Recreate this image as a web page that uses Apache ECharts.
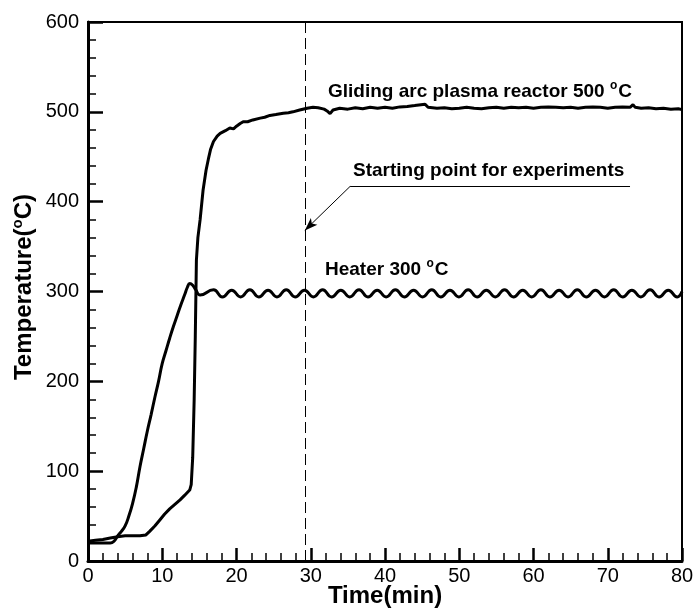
<!DOCTYPE html>
<html>
<head>
<meta charset="utf-8">
<script src="https://cdn.jsdelivr.net/npm/echarts@6/dist/echarts.min.js"></script>
<style>
  html, body { margin: 0; padding: 0; background: #fff; }
  #chart { width: 698px; height: 613px; }
</style>
</head>
<body>
<div id="chart"></div>
<script>
// Time axis (min) and temperature axis (°C) ticks
const xTicks = [0, 10, 20, 30, 40, 50, 60, 70, 80];
const yTicks = [0, 100, 200, 300, 400, 500, 600];

// Heater temperature, controlled at 300 °C
const heaterTime = [0, 1, 2, 3, 3.5, 4, 4.5, 5, 5.5, 6, 6.5, 7, 7.5, 8, 8.5, 9, 9.5, 10, 10.5, 11,
  11.5, 12, 12.5, 13, 13.4, 13.7, 14.1, 14.5, 15.1,
  16.9, 18.1, 19.35, 20.55, 21.8, 23.0, 24.25, 25.45, 26.7, 27.9, 29.15, 30.35, 31.6, 32.8,
  34.05, 35.25, 36.5, 37.7, 38.95, 40.15, 41.4, 42.6, 43.85, 45.05, 46.3, 47.5, 48.75, 49.95,
  51.2, 52.4, 53.65, 54.85, 56.1, 57.3, 58.55, 59.75, 61.0, 62.2, 63.45, 64.65, 65.9, 67.1,
  68.35, 69.55, 70.8, 72.0, 73.25, 74.45, 75.7, 76.9, 78.15, 79.35, 80];
const heaterTemp = [20, 20, 20, 20, 22, 28, 33, 39, 50, 64, 82, 105, 125, 145, 163, 182, 200, 220, 234, 248,
  261, 273, 285, 296, 305, 309, 307, 302, 296,
  302, 294, 301.5, 294, 302, 294, 301.5, 294, 302, 294, 301.5, 294, 302, 294,
  301.5, 294, 302, 294, 301.5, 294, 302, 294, 301.5, 294, 302, 294, 301.5, 294,
  302, 294, 301.5, 294, 302, 294, 301.5, 294, 302, 294, 301.5, 294, 302, 294,
  301.5, 294, 302, 294, 301.5, 294, 302, 294, 301.5, 294, 300];

// Gliding arc plasma reactor temperature, reaching 500 °C
const reactorTime = [0, 1, 2, 3, 4, 5, 6, 7, 7.8, 8.3, 9, 9.7, 10.3, 11, 11.7, 12.4, 13, 13.7, 13.9,
  14.1, 14.3, 14.45, 14.6, 14.8, 15.1, 15.5, 15.9, 16.2, 16.5, 16.9, 17.4, 17.8, 18.5, 19.1, 19.6,
  20.0, 20.5, 20.9, 21.5, 22.2, 23.2, 23.8, 24.5, 25.3, 26.3, 27.0, 27.6, 28.5, 29.5, 30.3, 31.0,
  31.8, 32.2, 32.6, 33.0, 33.9, 35, 36, 37, 38, 39, 40, 41, 42, 43, 44, 45.4, 45.8, 47, 48, 49,
  50, 51, 52, 53, 54, 55, 56, 57, 58, 59, 60, 61, 62, 63, 64, 65, 66, 67, 68, 69, 70, 71, 72, 73,
  73.4, 73.7, 74.5, 75.5, 76.5, 77.5, 78.5, 79.5, 80];
const reactorTemp = [22, 23, 24, 25.5, 27, 28, 28, 28, 29, 33, 39, 46, 52, 58, 63, 68, 73, 79, 85,
  115, 180, 250, 335, 360, 380, 413, 435, 447, 458, 467, 473, 476, 479, 482, 481,
  484, 487, 489, 489, 491, 493, 494, 496, 497, 498.5, 499, 500, 502, 504, 505, 504.5,
  503, 501, 498, 502, 504, 503, 504.5, 503.5, 505, 504, 505, 504, 505.5, 506, 507, 508.5, 505, 504, 504.5, 503.5,
  504, 505, 504, 503.5, 504.5, 505, 504, 505, 504.5, 505, 504, 505, 505.5, 505, 504.5, 505, 504, 505, 505.5, 505, 504, 505, 505.5, 505,
  508, 505, 504, 504.5, 503.5, 504, 503, 503.5, 502.5];

// Start of the experiments and the annotation callout
const startTime = 29.2;
const calloutTip = [29.2, 368];
const calloutElbow = [35.3, 417];
const calloutEnd = [73.0, 417];

const pair = (xs, ys) => xs.map((x, i) => [x, ys[i]]);

const FONT = 'Liberation Sans, Arial, Helvetica, sans-serif';
const supRich = {
  n: { fontFamily: FONT, fontWeight: 'bold', fontSize: 19, lineHeight: 21, verticalAlign: 'bottom', color: '#000' },
  s: { fontFamily: FONT, fontWeight: 'bold', fontSize: 12, lineHeight: 21, verticalAlign: 'top', color: '#000', padding: [0, 1, 0, 0] }
};

const chart = echarts.init(document.getElementById('chart'), null, { renderer: 'canvas' });

chart.setOption({
  animation: false,
  backgroundColor: '#fff',
  grid: {
    left: 88, right: 16, top: 22, bottom: 52,
    show: true, borderColor: '#000', borderWidth: 2, backgroundColor: 'transparent'
  },
  xAxis: {
    type: 'value',
    min: xTicks[0], max: xTicks[xTicks.length - 1], interval: 10,
    axisLine: { show: true, onZero: false, lineStyle: { color: '#000', width: 3 } },
    axisTick: { show: true, inside: true, length: 13, lineStyle: { color: '#000', width: 2.5 } },
    minorTick: { show: true, splitNumber: 5, length: 8, lineStyle: { color: '#000', width: 1.5 } },
    splitLine: { show: false },
    axisLabel: { color: '#000', fontFamily: FONT, fontSize: 20, margin: 5 }
  },
  yAxis: {
    type: 'value',
    min: yTicks[0], max: yTicks[yTicks.length - 1], interval: 100,
    axisLine: { show: true, onZero: false, lineStyle: { color: '#000', width: 3 } },
    axisTick: { show: true, inside: true, length: 15, lineStyle: { color: '#000', width: 2.5 } },
    minorTick: { show: true, splitNumber: 5, length: 8, lineStyle: { color: '#000', width: 1.5 } },
    splitLine: { show: false },
    axisLabel: { color: '#000', fontFamily: FONT, fontSize: 20, margin: 9 }
  },
  series: [
    {
      name: 'Heater',
      type: 'line',
      data: pair(heaterTime, heaterTemp),
      smooth: 0.5,
      showSymbol: false,
      lineStyle: { color: '#000', width: 3 },
      markLine: {
        silent: true,
        symbol: ['none', 'none'],
        label: { show: false },
        lineStyle: { color: '#000', width: 1, type: [11, 5] },
        data: [{ xAxis: startTime }]
      }
    },
    {
      name: 'Gliding arc plasma reactor',
      type: 'line',
      data: pair(reactorTime, reactorTemp),
      showSymbol: false,
      lineStyle: { color: '#000', width: 3 },
      markLine: {
        silent: true,
        label: { show: false },
        lineStyle: { color: '#000', width: 1, type: 'solid' },
        data: [
          [{ coord: calloutElbow, symbol: 'none' }, { coord: calloutTip, symbol: 'arrow', symbolSize: [7, 13] }],
          [{ coord: calloutElbow, symbol: 'none' }, { coord: calloutEnd, symbol: 'none' }]
        ]
      }
    }
  ],
  graphic: [
    {
      type: 'text', left: 328, top: 80,
      style: { text: '{n|Gliding arc plasma reactor 500 }{s|o}{n|C}', rich: supRich }
    },
    {
      type: 'text', left: 353, top: 161,
      style: { text: 'Starting point for experiments', fontFamily: FONT, fontWeight: 'bold', fontSize: 19, fill: '#000' }
    },
    {
      type: 'text', left: 325, top: 258,
      style: { text: '{n|Heater 300 }{s|o}{n|C}', rich: supRich }
    },
    {
      type: 'text', x: 385, y: 596,
      style: { text: 'Time(min)', align: 'center', verticalAlign: 'middle', fontFamily: FONT, fontWeight: 'bold', fontSize: 24, fill: '#000' }
    },
    {
      type: 'text', x: 23, y: 287, rotation: Math.PI / 2,
      style: {
        text: '{n|Temperature(}{s|o}{n|C)}',
        align: 'center', verticalAlign: 'middle',
        rich: {
          n: { fontFamily: FONT, fontWeight: 'bold', fontSize: 24, lineHeight: 26, verticalAlign: 'bottom', color: '#000' },
          s: { fontFamily: FONT, fontWeight: 'bold', fontSize: 15, lineHeight: 26, verticalAlign: 'top', color: '#000' }
        }
      }
    }
  ]
});
</script>
</body>
</html>
